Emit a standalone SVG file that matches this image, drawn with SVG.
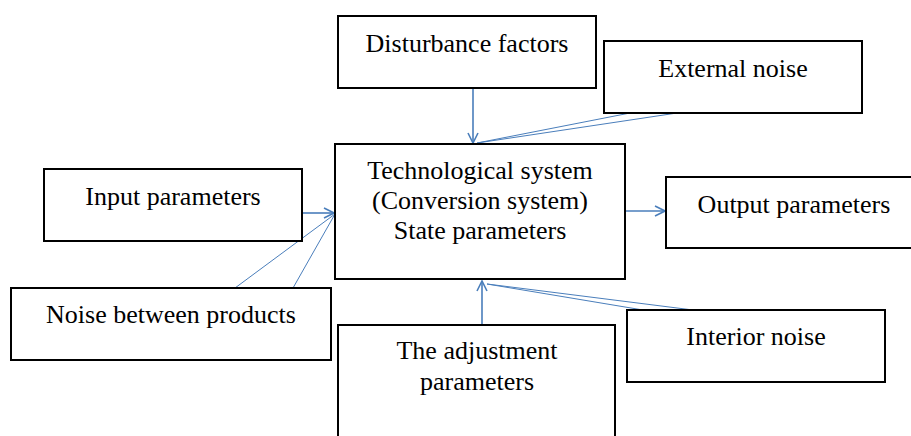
<svg xmlns="http://www.w3.org/2000/svg" width="911" height="436" viewBox="0 0 911 436">
<style>
.box{fill:#fff;stroke:#000;stroke-width:2}
.t{font-family:'Liberation Serif','Times New Roman',serif;font-size:26px;fill:#000;text-anchor:middle}
.arr{stroke:#4a7ebb;stroke-width:1.6;fill:none}
.thin{stroke:#4a7ebb;stroke-width:1;fill:none}
</style>
<defs>
<marker id="ah" viewBox="0 0 12 12" refX="11" refY="6" markerWidth="12" markerHeight="12" markerUnits="userSpaceOnUse" orient="auto">
<path d="M1,1 L11,6 L1,11" fill="none" stroke="#4a7ebb" stroke-width="1.6"/>
</marker>
</defs>
<rect width="911" height="436" fill="#fff"/>
<g id="connectors">
<line class="arr" x1="473" y1="88" x2="473" y2="143" marker-end="url(#ah)"/>
<line class="thin" x1="630" y1="113" x2="477" y2="143"/>
<line class="thin" x1="677" y1="113" x2="477" y2="143"/>
<line class="arr" x1="302" y1="213" x2="334" y2="213" marker-end="url(#ah)"/>
<line class="thin" x1="235" y1="288" x2="335" y2="214"/>
<line class="thin" x1="293" y1="288" x2="335" y2="214"/>
<line class="arr" x1="626" y1="211" x2="665" y2="211" marker-end="url(#ah)"/>
<line class="arr" x1="482" y1="325" x2="482" y2="281" marker-end="url(#ah)"/>
<line class="thin" x1="643" y1="310" x2="487" y2="284"/>
<line class="thin" x1="693" y1="310" x2="487" y2="284"/>
</g>
<g font-family="'Liberation Serif', 'Times New Roman', serif">
<g id="center">
<rect class="box" x="335" y="144" width="290" height="135"/>
<text class="t" x="480" y="179">Technological system</text>
<text class="t" x="480" y="209">(Conversion system)</text>
<text class="t" x="480" y="239">State parameters</text>
</g>
<g id="disturbance">
<rect class="box" x="338" y="16" width="258" height="72"/>
<text class="t" x="467" y="52">Disturbance factors</text>
</g>
<g id="external">
<rect class="box" x="604" y="41" width="258" height="72"/>
<text class="t" x="733" y="77">External noise</text>
</g>
<g id="input">
<rect class="box" x="44" y="169" width="258" height="72"/>
<text class="t" x="173" y="205">Input parameters</text>
</g>
<g id="noise-products">
<rect class="box" x="11" y="288" width="320" height="72"/>
<text class="t" x="171" y="323">Noise between products</text>
</g>
<g id="output">
<rect class="box" x="666" y="177" width="260" height="71"/>
<text class="t" x="794" y="213">Output parameters</text>
</g>
<g id="adjustment">
<rect class="box" x="338" y="325" width="277" height="130"/>
<text class="t" x="477" y="359">The adjustment</text>
<text class="t" x="477" y="390">parameters</text>
</g>
<g id="interior">
<rect class="box" x="627" y="310" width="258" height="72"/>
<text class="t" x="756" y="345">Interior noise</text>
</g>
</g>
</svg>
